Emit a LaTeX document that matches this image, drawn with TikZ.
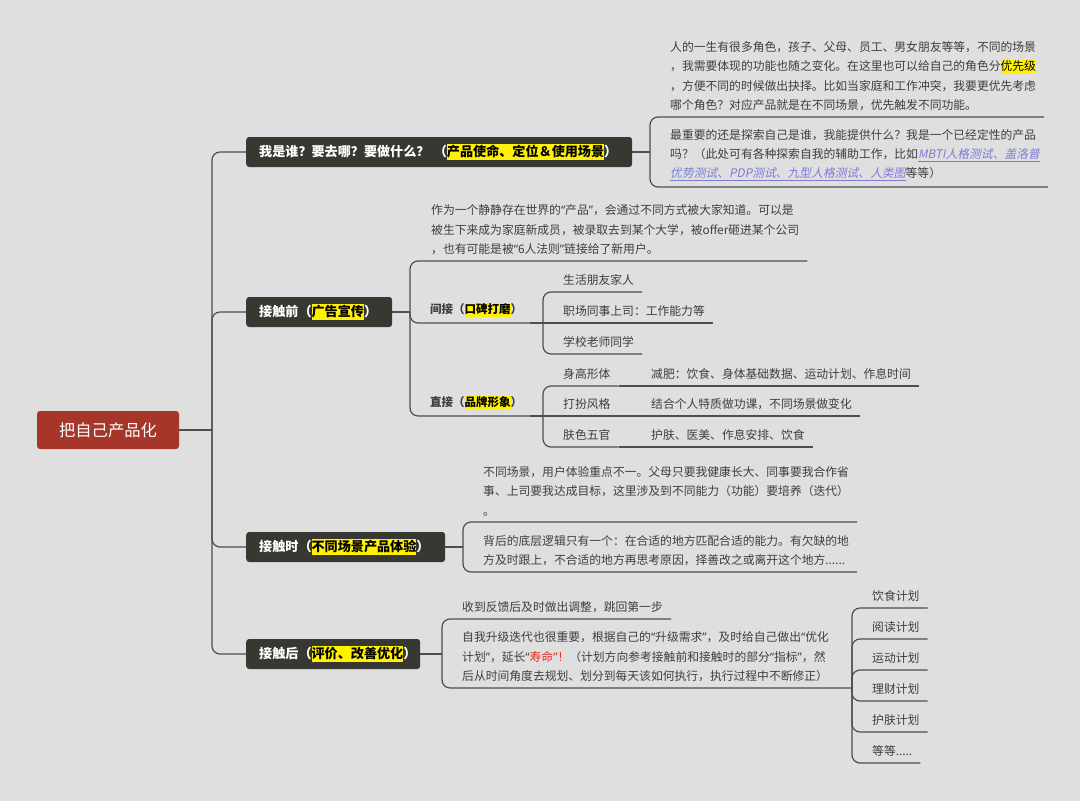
\documentclass[tikz,border=0pt]{standalone}
\usepackage{fontspec}
\setmainfont{Noto Sans CJK SC}
\newfontfamily\slantfont{Noto Sans CJK SC}[FakeSlant=0.2]
\newfontfamily\quotefont{Noto Sans}
\usepackage{xcolor}
\definecolor{bgcol}{RGB}{223,223,223}
\definecolor{linecol}{RGB}{78,78,78}
\definecolor{txtcol}{RGB}{62,62,62}
\definecolor{topiccol}{RGB}{56,56,50}
\definecolor{rootcol}{RGB}{166,54,42}
\definecolor{linkblue}{RGB}{124,124,214}
\definecolor{hotred}{RGB}{232,40,36}
\newcommand\hlt[1]{{\setlength{\fboxsep}{0pt}\colorbox{yellow}{\rule[-0.28em]{0pt}{1.22em}\textcolor{black}{#1}}}}
\newcommand\lnk[1]{\textcolor{linkblue}{\slantfont\underline{#1}}}
\newcommand\oq{{\quotefont “}}
\newcommand\cq{{\quotefont ”}}

\begin{document}
\begin{tikzpicture}[x=1pt, y=-1pt,
    link/.style={draw=linecol, line width=1.2pt},
    spine/.style={link, rounded corners=8pt}, %Bogen am Ast
    rootbox/.style={fill=rootcol, text=white, rounded corners=3pt, minimum width=142pt, minimum height=38pt, font=\fontsize{16.3}{17}\selectfont},
    topic/.style={fill=topiccol, text=white, rounded corners=3pt, anchor=west, minimum height=30pt, inner xsep=13pt, text width=#1, align=left, font=\fontsize{13.1}{15}\selectfont\bfseries},
    txt/.style={anchor=south west, align=left, inner xsep=8pt, inner ysep=6pt, text=txtcol, font=\fontsize{11.8}{19.3}\selectfont},
    subtopic/.style={txt, font=\fontsize{11.5}{19}\selectfont\bfseries}]
  \fill[bgcol] (0,0) rectangle (1080,801);
  \useasboundingbox (0,0) rectangle (1080,801);

  \node[rootbox] (root) at (108,430) {把自己产品化};
  \node[topic=360] (b1) at (246,152) {我是谁？要去哪？要做什么？~（\hlt{产品使命、定位＆使用场景}）};
  \node[topic=120] (b2) at (246,312) {接触前（\hlt{广告宣传}）};
  \node[topic=173] (b3) at (246,547) {接触时（\hlt{不同场景产品体验}）};
  \node[topic=148] (b4) at (246,654) {接触后（\hlt{评价、改善优化}）};

  \coordinate (hub) at (212,430);
  \draw[link] (root.east) -- (hub);
  \foreach \b in {b1,b2,b3,b4}
    \draw[spine] (hub) |- (\b.west);

  % Ast 1
  \coordinate (s1) at (650,152);
  \node[txt] (t11) at (662,117) {人的一生有很多角色，孩子、父母、员工、男女朋友等等，不同的场景\\
，我需要体现的功能也随之变化。在这里也可以给自己的角色分\hlt{优先级}\\
，方便不同的时候做出抉择。比如当家庭和工作冲突，我要更优先考虑\\
哪个角色？对应产品就是在不同场景，优先触发不同功能。};
  \node[txt] (t12) at (662,187) {最重要的还是探索自己是谁，我能提供什么？我是一个已经定性的产品\\
吗？（此处可有各种探索自我的辅助工作，比如\lnk{MBTI人格测试、盖洛普}\\
\lnk{优势测试、PDP测试、九型人格测试、人类图}等等）};
  \draw[link] (b1.east) -- (s1);
  \foreach \t in {t11,t12}
    \draw[spine] (s1) |- (\t.south east);

  % Ast 2
  \coordinate (s2) at (410,312);
  \node[txt] (t21) at (423,261) {作为一个静静存在世界的\oq 产品\cq ，会通过不同方式被大家知道。可以是\\
被生下来成为家庭新成员，被录取去到某个大学，被offer砸进某个公司\\
，也有可能是被\oq 6人法则\cq 链接给了新用户。};
  \node[subtopic] (t22) at (422,323) {间接（\hlt{口碑打磨}）};
  \node[subtopic] (t23) at (422,416) {直接（\hlt{品牌形象}）};
  \draw[link] (b2.east) -- (s2);
  \foreach \t in {t21,t22,t23}
    \draw[spine] (s2) |- (\t.south east);

  \coordinate (s22) at (543,323);
  \node[txt] (t221) at (555,292) {生活朋友家人};
  \node[txt] (t222) at (555,323) {职场同事上司：工作能力等};
  \node[txt] (t223) at (555,354) {学校老师同学};
  \draw[link] (t22.south east) -- (s22);
  \draw[spine] (s22) |- (t221.south east);
  \draw[link] (s22) -- (t222.south east);
  \draw[spine] (s22) |- (t223.south east);

  \coordinate (s23) at (543,416);
  \node[txt] (t231) at (555,386) {身高形体};
  \node[txt] (t232) at (555,416) {打扮风格};
  \node[txt] (t233) at (555,447) {肤色五官};
  \node[txt] (t2311) at (643,386) {减肥：饮食、身体基础数据、运动计划、作息时间};
  \node[txt] (t2321) at (643,416) {结合个人特质做功课，不同场景做变化};
  \node[txt] (t2331) at (643,447) {护肤、医美、作息安排、饮食};
  \draw[link] (t23.south east) -- (s23);
  \draw[spine] (s23) |- (t231.south east);
  \draw[link] (s23) -- (t232.south east);
  \draw[spine] (s23) |- (t233.south east);
  \draw[link] (t231.south east) -- (t2311.south east);
  \draw[link] (t232.south east) -- (t2321.south east);
  \draw[link] (t233.south east) -- (t2331.south east);

  % Ast 3
  \coordinate (s3) at (463,547);
  \node[txt] (t31) at (475,522) {不同场景，用户体验重点不一。父母只要我健康长大、同事要我合作省\\
事、上司要我达成目标，这里涉及到不同能力（功能）要培养（迭代）\\
。};
  \node[txt] (t32) at (475,572) {背后的底层逻辑只有一个：在合适的地方匹配合适的能力。有欠缺的地\\
方及时跟上，不合适的地方再思考原因，择善改之或离开这个地方......};
  \draw[link] (b3.east) -- (s3);
  \foreach \t in {t31,t32}
    \draw[spine] (s3) |- (\t.south east);

  % Ast 4
  \coordinate (s4) at (442,654);
  \coordinate (s42) at (852,688);
  \node[txt] (t41) at (454,619) {收到反馈后及时做出调整，跳回第一步};
  \node[txt] (t42) at (454,688) {自我升级迭代也很重要，根据自己的\oq 升级需求\cq ，及时给自己做出\oq 优化\\
计划\cq ，延长\oq\textcolor{hotred}{寿命\cq ！}（计划方向参考接触前和接触时的部分\oq 指标\cq ，然\\
后从时间角度去规划、划分到每天该如何执行，执行过程中不断修正）};
  \draw[link] (b4.east) -- (s4);
  \draw[spine] (s4) |- (t41.south east);
  \draw[spine] (s4) |- (t42.south east) -- (s42);

  \foreach \txt [count=\i] in {饮食计划,阅读计划,运动计划,理财计划,护肤计划}
    \node[txt] (p\i) at (864,577+31*\i) {\txt};
  \node[txt] (p6) at (864,763) {等等.....};
  \foreach \i in {1,2,3,4,5,6}
    \draw[spine] (s42) |- (p\i.south east);
\end{tikzpicture}
\end{document}
